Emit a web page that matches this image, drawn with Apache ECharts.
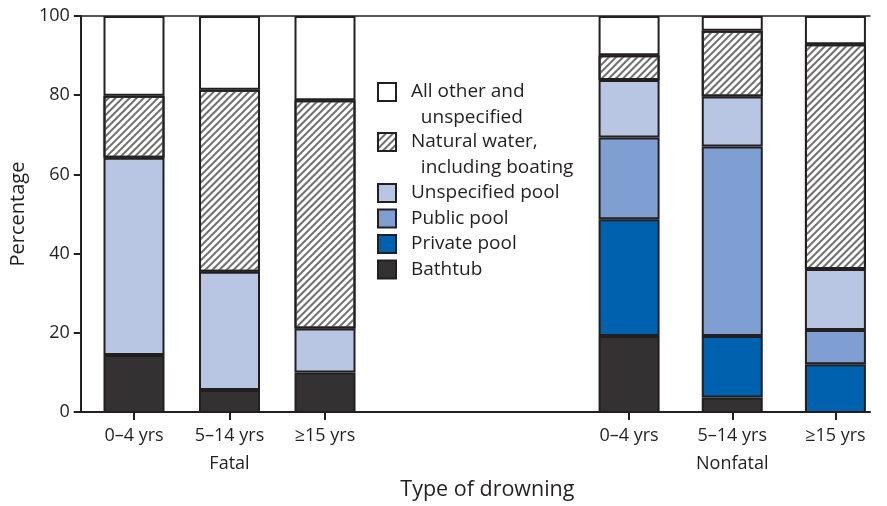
<!DOCTYPE html>
<html>
<head>
<meta charset="utf-8">
<script src="https://cdn.jsdelivr.net/npm/echarts@6/dist/echarts.min.js"></script>
<style>
  html, body { margin: 0; padding: 0; background: #fff; }
  #chart { width: 887px; height: 506px; }
</style>
</head>
<body>
<div id="chart"></div>
<script>
// age groups, same for both panels
const fatalAges = ['0\u20134 yrs', '5\u201314 yrs', '\u226515 yrs'];
const nonfatalAges = ['0\u20134 yrs', '5\u201314 yrs', '\u226515 yrs'];
const yTicks = [0, 20, 40, 60, 80, 100];

// percentages, stacked bottom to top (null = category not present)
const fatalBathtub     = [14.6, 5.8, 10.2];
const fatalPrivate     = [null, null, null];
const fatalPublic      = [null, null, null];
const fatalUnspecPool  = [49.7, 29.8, 11.1];
const fatalNatural     = [15.6, 45.8, 57.5];
const fatalOther       = [20.1, 18.6, 21.2];

const nonfatalBathtub    = [19.4, 3.9, null];
const nonfatalPrivate    = [29.4, 15.5, 12.3];
const nonfatalPublic     = [20.6, 47.7, 8.6];
const nonfatalUnspecPool = [14.5, 12.6, 15.4];
const nonfatalNatural    = [6.2, 16.6, 56.6];
const nonfatalOther      = [9.9, 3.7, 7.1];

const names = ['Bathtub', 'Private pool', 'Public pool', 'Unspecified pool',
               'Natural water, including boating', 'All other and unspecified'];
const colors = ['#333132', '#0061ae', '#7f9fd2', '#b8c6e3', '#ffffff', '#ffffff'];

const ink = '#231f20';
const font = 'Open Sans';

const hatch = {
    symbol: 'rect',
    symbolSize: 1,
    dashArrayX: [1, 0],
    dashArrayY: [2, 3],
    rotation: -Math.PI / 4,
    color: '#6f6f6f'
};

function makeSeries(lists, panel) {
    return lists.map((vals, i) => {
        const itemStyle = { color: colors[i], borderColor: ink, borderWidth: 2 };
        if (i === 4) itemStyle.decal = hatch;
        return {
            name: names[i],
            type: 'bar',
            stack: 'p' + panel,
            xAxisIndex: panel + 1,
            yAxisIndex: panel + 1,
            barWidth: 61,
            data: vals,
            itemStyle: itemStyle,
            emphasis: { disabled: true }
        };
    });
}

const chart = echarts.init(document.getElementById('chart'));

const labelStyle = { color: ink, fontFamily: font, fontSize: 18 };
const legendText = { color: ink, fontFamily: font, fontSize: 19, lineHeight: 25.5, padding: [0, 0, 0, 10] };

function legendBox(items, top, formatter) {
    const lg = {
        orient: 'vertical',
        left: 377,
        top: top,
        padding: 0,
        itemGap: 0,
        itemWidth: 18,
        itemHeight: 18,
        icon: 'rect',
        selectedMode: false,
        data: items,
        textStyle: legendText
    };
    if (formatter) lg.formatter = formatter;
    return lg;
}

const catAxis = (gridNo, data, groupName) => ({
    type: 'category',
    gridIndex: gridNo,
    data: data,
    axisLine: { show: false },
    axisTick: { show: true, alignWithLabel: true, length: 7, lineStyle: { color: ink, width: 2 } },
    axisLabel: Object.assign({ margin: 14 }, labelStyle),
    name: groupName,
    nameLocation: 'middle',
    nameGap: 42,
    nameTextStyle: labelStyle
});

chart.setOption({
    animation: false,
    grid: [
        { left: 74, right: 17, top: 16, bottom: 93 },
        { left: 86.25, width: 286.5, top: 16, bottom: 93 },
        { left: 577.5, width: 312, top: 16, bottom: 93 }
    ],
    // two-line entries get an empty first line so the box lines up with the first text line
    legend: [
        legendBox([names[5]], 53.75, () => '\nAll other and\n  unspecified'),
        legendBox([names[4]], 103.75, () => '\nNatural water,\n  including boating'),
        legendBox(names.slice(0, 4).reverse(), 180.25)
    ],
    xAxis: [
        {
            type: 'value', gridIndex: 0, min: 0, max: 1,
            axisLine: { show: true, lineStyle: { color: ink, width: 2 } },
            axisTick: { show: false }, axisLabel: { show: false }, splitLine: { show: false },
            name: 'Type of drowning', nameLocation: 'middle', nameGap: 67,
            nameTextStyle: { color: ink, fontFamily: font, fontSize: 21.5, padding: [0, 0, 0, 24] }
        },
        catAxis(1, fatalAges, 'Fatal'),
        catAxis(2, nonfatalAges, 'Nonfatal'),
        {
            type: 'value', gridIndex: 0, position: 'top', min: 0, max: 1,
            axisLine: { show: true, lineStyle: { color: ink, width: 1.5 } },
            axisTick: { show: false }, axisLabel: { show: false }, splitLine: { show: false }
        }
    ],
    yAxis: [
        {
            type: 'value', gridIndex: 0, min: yTicks[0], max: yTicks[yTicks.length - 1], interval: 20,
            axisLine: { show: true, lineStyle: { color: ink, width: 2 } },
            axisTick: { show: true, length: 7, lineStyle: { color: ink, width: 2 } },
            axisLabel: Object.assign({ margin: 11 }, labelStyle),
            splitLine: { show: false },
            name: 'Percentage', nameLocation: 'middle', nameGap: 45,
            nameTextStyle: { color: ink, fontFamily: font, fontSize: 20 }
        },
        { type: 'value', gridIndex: 1, min: 0, max: 100, show: false },
        { type: 'value', gridIndex: 2, min: 0, max: 100, show: false }
    ],
    series: makeSeries([fatalBathtub, fatalPrivate, fatalPublic, fatalUnspecPool, fatalNatural, fatalOther], 0)
        .concat(makeSeries([nonfatalBathtub, nonfatalPrivate, nonfatalPublic, nonfatalUnspecPool, nonfatalNatural, nonfatalOther], 1))
});
</script>
</body>
</html>
